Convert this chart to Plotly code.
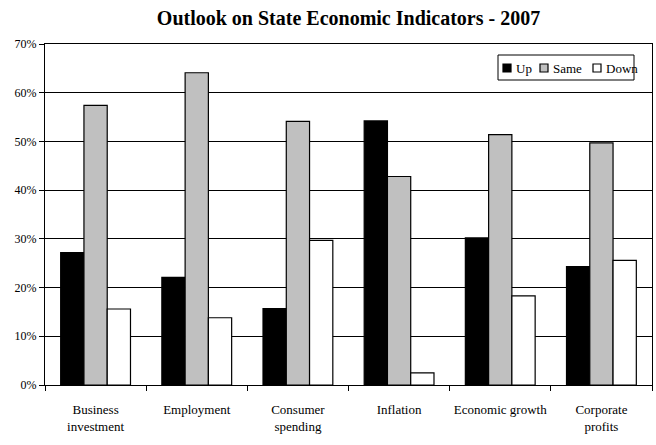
import plotly.graph_objects as go

categories = ["Business<br>investment", "Employment", "Consumer<br>spending",
              "Inflation", "Economic growth", "Corporate<br>profits"]
series_names = ["Up", "Same", "Down"]
up = [27.2, 22.1, 15.7, 54.2, 30.2, 24.3]
same = [57.4, 64.1, 54.1, 42.8, 51.4, 49.7]
down = [15.6, 13.8, 29.7, 2.5, 18.3, 25.6]
y_ticks = [0, 10, 20, 30, 40, 50, 60, 70]
y_labels = [f"{v}%" for v in y_ticks]

font = "Liberation Serif, Times New Roman, serif"
colors = ["#000000", "#C0C0C0", "#FFFFFF"]

W, H = 656, 445
L, R, T, B = 45, 4, 44, 60
pw, ph = W - L - R, H - T - B

def px_x(x):
    return (x - L) / pw

def px_y(y):
    return (H - B - y) / ph

fig = go.Figure()
for name, vals, col in zip(series_names, [up, same, down], colors):
    fig.add_trace(go.Bar(x=categories, y=vals, name=name, showlegend=False,
                         marker=dict(color=col, line=dict(color="#000000", width=1.2))))

# compact legend drawn as box + swatches + text
shapes = [dict(type="rect", xref="paper", yref="paper",
               x0=px_x(498), x1=px_x(634), y0=px_y(80), y1=px_y(55),
               line=dict(color="#000000", width=1), fillcolor="white", layer="above")]
annotations = []
swatch_x = [503, 540, 593]
for name, col, sx in zip(series_names, colors, swatch_x):
    shapes.append(dict(type="rect", xref="paper", yref="paper",
                       x0=px_x(sx), x1=px_x(sx + 8), y0=px_y(72), y1=px_y(64),
                       line=dict(color="#000000", width=1.2), fillcolor=col, layer="above"))
    annotations.append(dict(text=name, xref="paper", yref="paper",
                            x=px_x(sx + 11), y=px_y(68), xanchor="left", yanchor="middle",
                            showarrow=False, font=dict(family=font, size=13, color="#000000")))

fig.update_layout(
    width=W, height=H,
    margin=dict(l=L, r=R, t=T, b=B, autoexpand=False),
    paper_bgcolor="white", plot_bgcolor="white",
    barmode="group", bargap=0.31, bargroupgap=0,
    font=dict(family=font, size=12, color="#000000"),
    title=dict(text="<b>Outlook on State Economic Indicators - 2007</b>",
               xref="paper", x=0.5, xanchor="center", y=0.96, yanchor="middle",
               font=dict(family=font, size=20, color="#000000")),
    showlegend=False,
    shapes=shapes,
    annotations=annotations,
    xaxis=dict(showline=True, linecolor="#000000", linewidth=1, mirror=True,
               ticks="outside", tickson="boundaries", ticklen=5, tickcolor="#000000",
               tickfont=dict(family=font, size=13), showgrid=False,
               tickangle=0, automargin=False, ticklabelstandoff=12),
    yaxis=dict(range=[0, 70], tickvals=y_ticks, ticktext=y_labels,
               showline=True, linecolor="#000000", linewidth=1, mirror=True,
               ticks="outside", ticklen=5, tickcolor="#000000",
               showgrid=True, gridcolor="#000000", gridwidth=1,
               tickfont=dict(family=font, size=12), zeroline=False,
               automargin=False),
)

fig.write_html("out.html")
